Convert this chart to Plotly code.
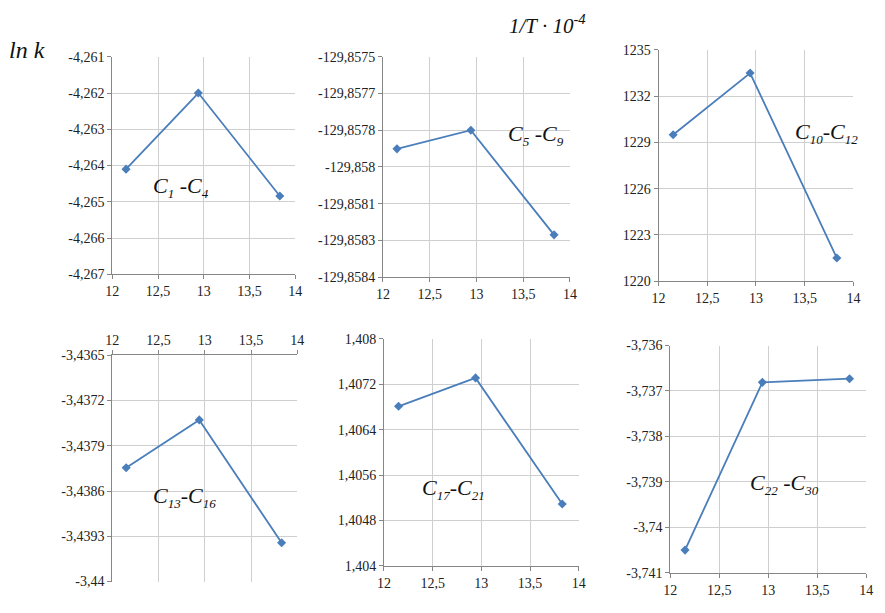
import plotly.graph_objects as go

# Inverse temperature, 1/T * 10^4
inv_T = [12.15, 12.94, 13.83]

# ln k for each hydrocarbon fraction
lnk_c1_c4 = [-4.2641, -4.2620, -4.26484]
lnk_c5_c9 = [-129.857876, -129.8578, -129.858227]
lnk_c10_c12 = [1229.5, 1233.5, 1221.5]
lnk_c13_c16 = [-3.43824, -3.43750, -3.43940]
lnk_c17_c21 = [1.40681, 1.40731, 1.40509]
lnk_c22_c30 = [-3.7405, -3.73681, -3.73673]

# Y tick values and their printed labels
yt1 = [-4.267, -4.266, -4.265, -4.264, -4.263, -4.262, -4.261]
yl1 = ["-4,267", "-4,266", "-4,265", "-4,264", "-4,263", "-4,262", "-4,261"]
yt2 = [-129.8584, -129.85825, -129.8581, -129.85795, -129.8578, -129.85765, -129.8575]
yl2 = ["-129,8584", "-129,8583", "-129,8581", "-129,858", "-129,8578", "-129,8577", "-129,8575"]
yt3 = [1220, 1223, 1226, 1229, 1232, 1235]
yl3 = ["1220", "1223", "1226", "1229", "1232", "1235"]
yt4 = [-3.44, -3.4393, -3.4386, -3.4379, -3.4372, -3.4365]
yl4 = ["-3,44", "-3,4393", "-3,4386", "-3,4379", "-3,4372", "-3,4365"]
yt5 = [1.404, 1.4048, 1.4056, 1.4064, 1.4072, 1.408]
yl5 = ["1,404", "1,4048", "1,4056", "1,4064", "1,4072", "1,408"]
yt6 = [-3.741, -3.740, -3.739, -3.738, -3.737, -3.736]
yl6 = ["-3,741", "-3,74", "-3,739", "-3,738", "-3,737", "-3,736"]

# fraction names: (first carbon number, last carbon number, separator)
fractions = [("1", "4", " -"), ("5", "9", " -"), ("10", "12", "-"),
             ("13", "16", "-"), ("17", "21", "-"), ("22", "30", " -")]

series = [lnk_c1_c4, lnk_c5_c9, lnk_c10_c12, lnk_c13_c16, lnk_c17_c21, lnk_c22_c30]
yticks = [(yt1, yl1), (yt2, yl2), (yt3, yl3), (yt4, yl4), (yt5, yl5), (yt6, yl6)]

W, H = 885, 613
# plot boxes in pixels: left, right, top, bottom
boxes = [
    (107, 293, 51, 274),
    (382, 572, 51, 277),
    (662, 860, 44, 281),
    (107, 295, 357, 589),
    (383, 581, 340, 573),
    (674, 873, 347, 580),
]
# label anchor positions in pixels (left x, centre y)
label_pos = [(146, 185), (507, 131), (799, 129), (146, 502), (420, 494), (753, 489)]

BLUE = "#4a7ebb"
AXIS = "#868686"
GRID = "#cfcfcf"
SERIF = "Liberation Serif"


def sub(s):
    return "<sub><span style='font-size:13px'>" + s + "</span></sub>"


fig = go.Figure()
layout = dict(
    width=W, height=H,
    margin=dict(l=0, r=0, t=0, b=0),
    paper_bgcolor="white", plot_bgcolor="white",
    showlegend=False,
    separators=", ",
    font=dict(family=SERIF, size=14, color="#222"),
)

for i, (ys, (tv, tt), box) in enumerate(zip(series, yticks, boxes)):
    n = "" if i == 0 else str(i + 1)
    fig.add_trace(go.Scatter(
        x=inv_T, y=ys, mode="lines+markers",
        xaxis="x" + n, yaxis="y" + n,
        line=dict(color=BLUE, width=1.8),
        marker=dict(symbol="diamond", size=7, color=BLUE),
    ))
    l, r, t, b = box
    layout["xaxis" + n] = dict(
        domain=[l / W, r / W], anchor="y" + n,
        range=[12, 14], dtick=0.5, tick0=12,
        side="top" if i == 3 else "bottom",
        showgrid=True, gridcolor=GRID, gridwidth=1,
        showline=True, linecolor=AXIS, linewidth=1,
        ticks="outside", ticklen=4, tickcolor=AXIS,
        zeroline=False, fixedrange=True,
        tickfont=dict(family=SERIF, size=14, color="#222"),
    )
    layout["yaxis" + n] = dict(
        domain=[1 - b / H, 1 - t / H], anchor="x" + n,
        range=[tv[0], tv[-1]],
        tickvals=tv, ticktext=tt,
        showgrid=True, gridcolor=GRID, gridwidth=1,
        showline=True, linecolor=AXIS, linewidth=1,
        ticks="outside", ticklen=4, tickcolor=AXIS,
        zeroline=False, fixedrange=True,
        tickfont=dict(family=SERIF, size=14, color="#222"),
    )

annotations = []
for (a, b, sep), (px, py) in zip(fractions, label_pos):
    txt = "<i>C" + sub(a) + sep + "C" + sub(b) + "</i>"
    annotations.append(dict(
        text=txt, x=px / W, y=1 - py / H,
        xref="paper", yref="paper", xanchor="left", yanchor="middle",
        showarrow=False, font=dict(family=SERIF, size=22, color="#111"),
    ))

annotations.append(dict(
    text="<i>ln k</i>", x=0, y=1 - 44 / H, xref="paper", yref="paper",
    xanchor="left", yanchor="middle", showarrow=False,
    font=dict(family=SERIF, size=24, color="#111"),
))
annotations.append(dict(
    text="<i>1/T · 10<sup>-4</sup></i>", x=508 / W, y=1 - 18 / H,
    xref="paper", yref="paper", xanchor="left", yanchor="middle",
    showarrow=False, font=dict(family=SERIF, size=21, color="#111"),
))
layout["annotations"] = annotations

fig.update_layout(**layout)
fig.write_html("out.html")
